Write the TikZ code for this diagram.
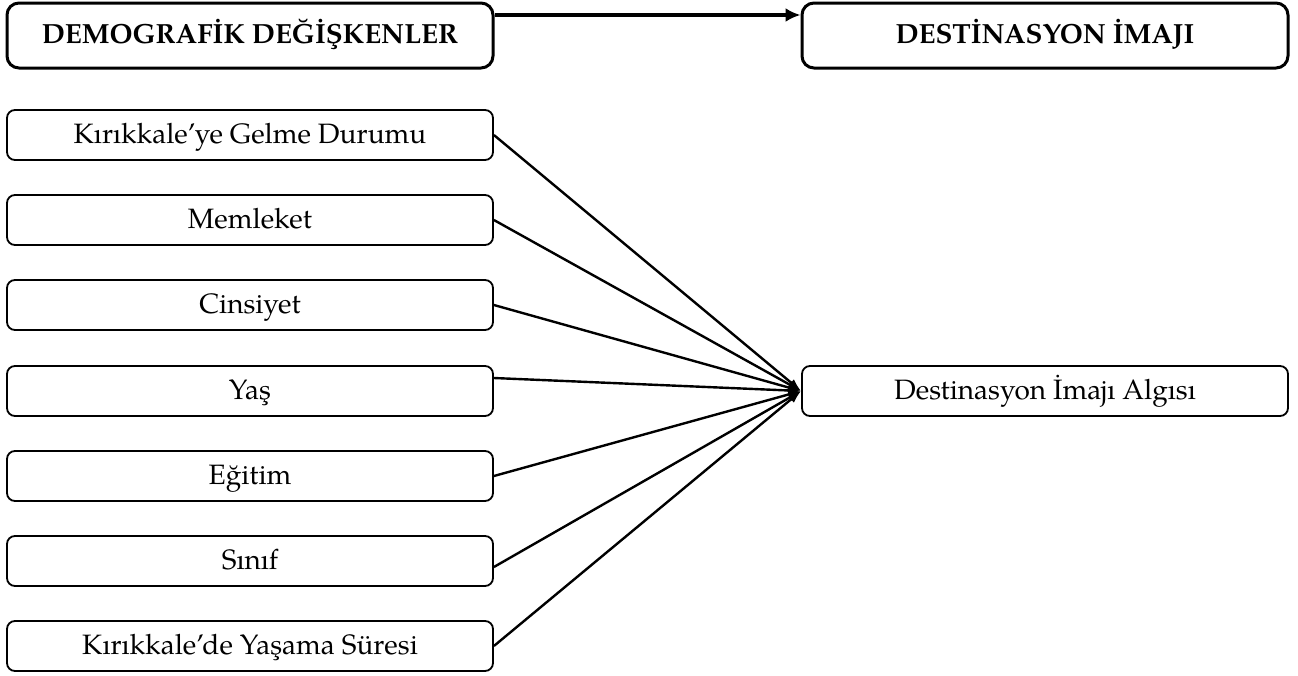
\documentclass[tikz,border=0pt]{standalone}
\usepackage{fontspec}
\setmainfont{texgyrepagella}[Extension=.otf,UprightFont=*-regular,BoldFont=*-bold,ItalicFont=*-italic,BoldItalicFont=*-bolditalic]
\usetikzlibrary{arrows.meta}
\begin{document}
\begin{tikzpicture}[x=1pt,y=-1pt,
  bigbox/.style={draw, line width=3pt, rounded corners=12pt, minimum width=486pt, minimum height=65pt, inner sep=0pt, text height=20.5pt, text depth=5.5pt, font=\fontsize{27.7}{32}\selectfont\bfseries},
  smallbox/.style={draw, line width=1.8pt, rounded corners=8pt, minimum width=486pt, minimum height=50pt, inner sep=0pt, text height=21pt, text depth=5pt, font=\fontsize{28}{32}\selectfont},
  toparr/.style={line width=3.2pt, -{Latex[length=15pt,width=14pt]}},
  arr/.style={line width=2.4pt, -{Latex[length=13pt,width=9pt]}}]
\useasboundingbox (0,0) rectangle (1298,675);
\node[bigbox] (demo) at (250,35.5) {DEMOGRAFİK DEĞİŞKENLER};
\node[bigbox] (dimg) at (1045,35.5) {DESTİNASYON İMAJI};
\node[smallbox] (b1) at (250,135) {Kırıkkale’ye Gelme Durumu};
\node[smallbox] (b2) at (250,220) {Memleket};
\node[smallbox] (b3) at (250,305) {Cinsiyet};
\node[smallbox] (b4) at (250,391) {Yaş};
\node[smallbox] (b5) at (250,476) {Eğitim};
\node[smallbox] (b6) at (250,561) {Sınıf};
\node[smallbox] (b7) at (250,646) {Kırıkkale’de Yaşama Süresi};
\node[smallbox] (alg) at (1045,391) {Destinasyon İmajı Algısı};
\draw[toparr] ([yshift=20.5pt]demo.east) -- ([yshift=20.5pt]dimg.west);
\draw[arr] (b1.east) -- (alg.west);
\draw[arr] (b2.east) -- (alg.west);
\draw[arr] (b3.east) -- (alg.west);
\draw[arr] ([yshift=13pt]b4.east) -- (alg.west);
\draw[arr] (b5.east) -- (alg.west);
\draw[arr] ([yshift=-6pt]b6.east) -- (alg.west);
\draw[arr] (b7.east) -- (alg.west);
\end{tikzpicture}
\end{document}
